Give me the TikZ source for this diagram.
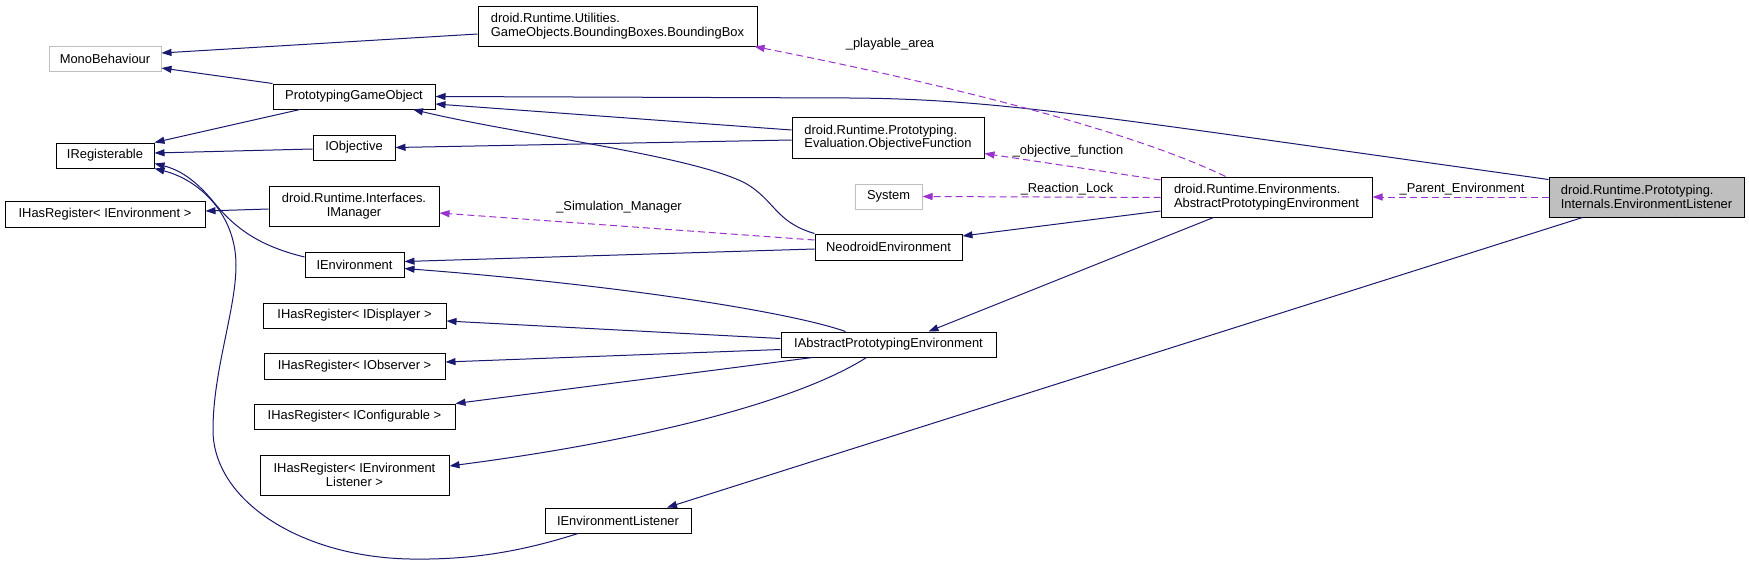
\documentclass[tikz,border=0pt]{standalone}
\usepackage{fontspec}
\setmainfont{Liberation Sans}
\usetikzlibrary{arrows.meta}
\definecolor{navy}{HTML}{191970}
\definecolor{purp}{HTML}{9A32CD}
\definecolor{greyext}{HTML}{BFBFBF}
\begin{document}
\begin{tikzpicture}[x=1pt,y=-1pt,
 box/.style={draw=black, line width=1pt, fill=white, inner sep=0pt, font=\fontsize{12.9}{13.5}\selectfont, align=center},
 lbox/.style={box, align=left},
 ext/.style={box, draw=greyext},
 main/.style={lbox, fill=greyext},
 inh/.style={draw=navy, line width=1pt, -{Triangle[length=10pt,width=7pt]}},
 use/.style={draw=purp, line width=1pt, dash pattern=on 7pt off 4pt, -{Triangle[length=10pt,width=7pt]}},
 elab/.style={font=\fontsize{12.9}{13.5}\selectfont, inner sep=0pt}
]
\useasboundingbox[fill=white] (0,0) rectangle (1749,565);

% nodes
\node[lbox, minimum width=279pt, minimum height=40pt] (bb) at (617.5,26) {droid.Runtime.Utilities.\\GameObjects.BoundingBoxes.BoundingBox};
\node[ext, minimum width=112pt, minimum height=25pt] (mono) at (105,58.5) {MonoBehaviour};
\node[box, minimum width=162pt, minimum height=25pt] (pgo) at (354,96.5) {PrototypingGameObject};
\node[box, minimum width=98pt, minimum height=25pt] (ireg) at (105,155.5) {IRegisterable};
\node[box, minimum width=82pt, minimum height=25pt] (iobj) at (354,147.5) {IObjective};
\node[lbox, minimum width=192pt, minimum height=41pt] (objf) at (888,137.5) {droid.Runtime.Prototyping.\\Evaluation.ObjectiveFunction};
\node[ext, minimum width=67pt, minimum height=25pt] (sys) at (888.5,196.5) {System};
\node[lbox, minimum width=211pt, minimum height=40pt] (ape) at (1266.5,197) {droid.Runtime.Environments.\\AbstractPrototypingEnvironment};
\node[main, minimum width=195pt, minimum height=40pt] (el) at (1646.5,197) {droid.Runtime.Prototyping.\\Internals.EnvironmentListener};
\node[box, minimum width=200pt, minimum height=26pt] (hrenv) at (105,214) {IHasRegister< IEnvironment >};
\node[box, minimum width=170pt, minimum height=40pt] (iman) at (354,206) {droid.Runtime.Interfaces.\\IManager};
\node[box, minimum width=147pt, minimum height=26pt] (neo) at (888.5,247) {NeodroidEnvironment};
\node[box, minimum width=99pt, minimum height=25pt] (ienv) at (354.5,264.5) {IEnvironment};
\node[box, minimum width=215pt, minimum height=25pt] (iape) at (888.5,344.5) {IAbstractPrototypingEnvironment};
\node[box, minimum width=183pt, minimum height=25pt] (hrdisp) at (354.5,315.5) {IHasRegister< IDisplayer >};
\node[box, minimum width=181pt, minimum height=26pt] (hrobs) at (354.5,366) {IHasRegister< IObserver >};
\node[box, minimum width=201pt, minimum height=25pt] (hrconf) at (354.5,416.5) {IHasRegister< IConfigurable >};
\node[box, minimum width=189pt, minimum height=40pt] (hrel) at (354.5,475) {IHasRegister< IEnvironment\\Listener >};
\node[box, minimum width=146pt, minimum height=25pt] (iel) at (618,520.5) {IEnvironmentListener};

% inheritance edges
\draw[inh] ([yshift=-8pt]bb.west) -- ([yshift=5.5pt]mono.east);
\draw[inh] (pgo.north west) -- ([yshift=-9.5pt]mono.east);
\draw[inh] ([xshift=-54pt]pgo.south) -- (ireg.north east);
\draw[inh] ([yshift=-1.5pt]iobj.west) -- ([yshift=2.5pt]ireg.east);
\draw[inh] ([yshift=7.5pt]ienv.west) .. controls (255,245) and (232,225) .. (212,200) .. controls (195,180) and (180,170) .. ([yshift=-8pt]ireg.east);
\draw[inh] ([xshift=-40pt]iel.south) .. controls (520,552) and (470,560) .. (410,559) .. controls (300,557) and (213,500) .. (213,430) .. controls (213,370) and (236,310) .. (236,265) .. controls (236,215) and (200,180) .. (ireg.south east);
\draw[inh] ([yshift=-3pt]iman.west) -- ([yshift=3pt]hrenv.east);
\draw[inh] ([yshift=-3pt]el.north west) .. controls (1100,117) and (1000,99) .. (850,98) -- (pgo.east);
\draw[inh] ([yshift=7.5pt]objf.west) -- ([yshift=-7.5pt]pgo.east);
\draw[inh] ([yshift=-2.5pt]objf.west) -- (iobj.east);
\draw[inh] (neo.north west) .. controls (775,222) and (775,200) .. (745,183) .. controls (690,155) and (520,135) .. ([xshift=59pt]pgo.south);
\draw[inh] ([yshift=-2pt]neo.west) -- ([yshift=3pt]ienv.east);
\draw[inh] ([xshift=-43pt]iape.north) .. controls (790,312) and (620,285) .. ([yshift=-4pt]ienv.east);
\draw[inh] ([xshift=-53pt]ape.south) -- ([xshift=40pt]iape.north);
\draw[inh] ([yshift=-14pt]ape.west) -- ([yshift=11pt]neo.east);
\draw[inh] ([yshift=6pt]iape.west) -- ([yshift=-5.5pt]hrdisp.east);
\draw[inh] ([yshift=-5pt]iape.west) -- ([yshift=4pt]hrobs.east);
\draw[inh] ([xshift=-76pt]iape.south) -- (hrconf.north east);
\draw[inh] ([xshift=-22pt]iape.south) .. controls (800,400) and (650,440) .. ([yshift=9pt]hrel.east);
\draw[inh] ([xshift=-64pt]el.south) -- ([xshift=49pt]iel.north);

% usage edges
\draw[use] ([xshift=-41pt]ape.north) .. controls (1150,140) and (1000,95) .. ([xshift=137pt]bb.south);
\draw[use] ([yshift=17pt]ape.west) -- ([yshift=-16pt]objf.east);
\draw[use] ([yshift=-0.5pt]ape.west) -- (sys.east);
\draw[use] ([yshift=7pt]neo.west) -- ([yshift=-7pt]iman.east);
\draw[use] (el.west) -- (ape.east);

% edge labels
\node[elab] (lpa) at (890,44) {\_playable\_area};
\node[elab] (lof) at (1068,151) {\_objective\_function};
\node[elab] (lrl) at (1067,189) {\_Reaction\_Lock};
\node[elab] (lsm) at (619,207) {\_Simulation\_Manager};
\node[elab] (lpe) at (1462,189) {\_Parent\_Environment};
\end{tikzpicture}
\end{document}
